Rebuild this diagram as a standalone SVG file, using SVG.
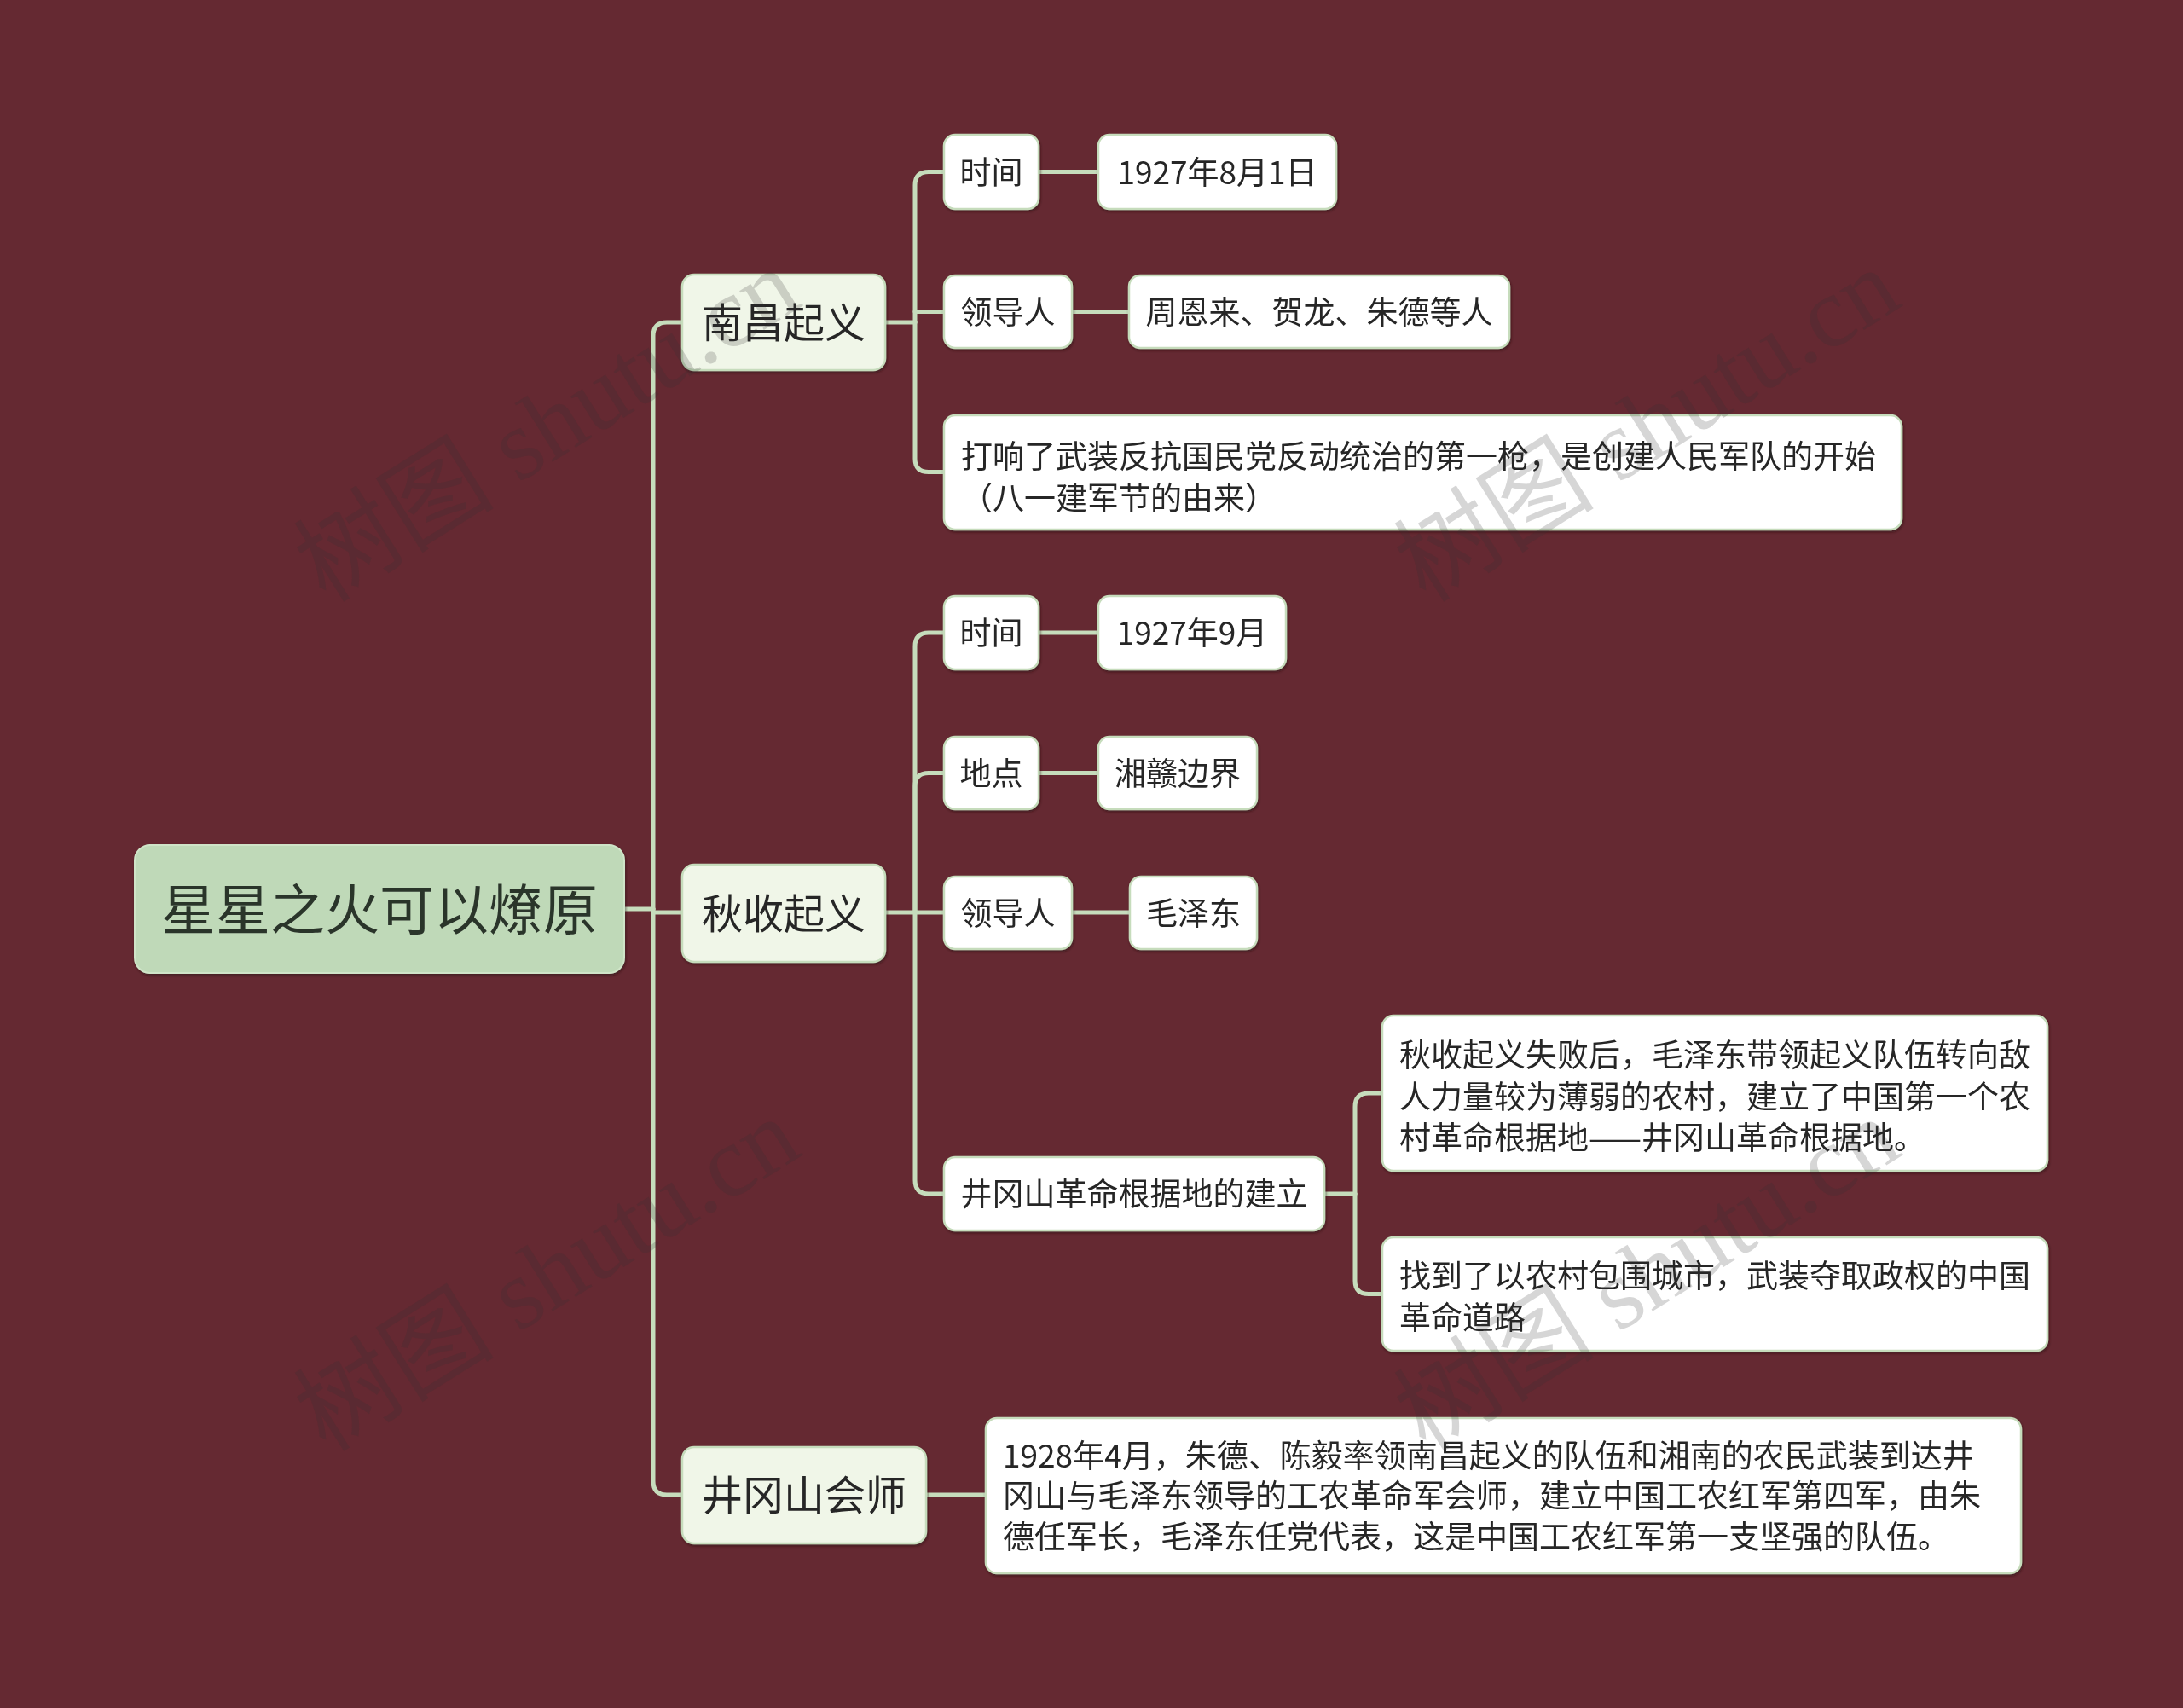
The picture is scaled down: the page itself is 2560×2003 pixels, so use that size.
<svg xmlns="http://www.w3.org/2000/svg" width="2560" height="2003" viewBox="0 0 2560 2003">
<defs>
<filter id="sh" x="-5%" y="-10%" width="110%" height="125%">
<feDropShadow dx="1" dy="2" stdDeviation="1.5" flood-color="#2a0c12" flood-opacity="0.55"/>
</filter>
</defs>
<style>
.t{font-family:"Noto Sans CJK SC","Noto Sans",sans-serif;fill:#262626}
.c{fill:none;stroke:#c6dcbc;stroke-width:5;stroke-linecap:round;stroke-linejoin:round}
.root rect{fill:#bfd9b8;stroke:#cfe4c8;stroke-width:2}
.l1 rect{fill:#f0f6e8;stroke:#c6dcbc;stroke-width:2.5}
.l2 rect{fill:#ffffff;stroke:#c6dcbc;stroke-width:2.5}
.root text{font-size:64px;fill:#2c342c}
.l1 text{font-size:48px;fill:#262626}
.l2 text{font-size:37px}
.m{text-anchor:middle}
.wm{font-family:"Liberation Serif","Noto Sans CJK SC",serif;font-size:118px;fill:#333333;fill-opacity:0.2}
</style>
<rect x="0" y="0" width="2560" height="2003" fill="#652932"/>

<g id="connectors">
<path class="c" d="M732,1066 H766"/>
<path class="c" d="M766,1066 V394 Q766,378 782,378 H800"/>
<path class="c" d="M766,1070 H800"/>
<path class="c" d="M766,1066 V1737 Q766,1753 782,1753 H800"/>
<path class="c" d="M1038,378 H1073"/>
<path class="c" d="M1073,378 V217 Q1073,201.5 1089,201.5 H1107"/>
<path class="c" d="M1073,365.5 H1107"/>
<path class="c" d="M1073,378 V538 Q1073,553.5 1089,553.5 H1107"/>
<path class="c" d="M1218,201.5 H1288"/>
<path class="c" d="M1257,365.5 H1324"/>
<path class="c" d="M1038,1070 H1073"/>
<path class="c" d="M1073,1070 V758 Q1073,742 1089,742 H1107"/>
<path class="c" d="M1073,1070 V922 Q1073,906.5 1089,906.5 H1107"/>
<path class="c" d="M1073,1070 H1107"/>
<path class="c" d="M1073,1070 V1384 Q1073,1400 1089,1400 H1107"/>
<path class="c" d="M1218,742 H1288"/>
<path class="c" d="M1218,906.5 H1288"/>
<path class="c" d="M1257,1070 H1325"/>
<path class="c" d="M1553,1400 H1589"/>
<path class="c" d="M1589,1400 V1298 Q1589,1282 1605,1282 H1621"/>
<path class="c" d="M1589,1400 V1502 Q1589,1517.5 1605,1517.5 H1621"/>
<path class="c" d="M1086,1753 H1156"/>
</g>

<g id="root" class="root" filter="url(#sh)">
<rect x="158" y="991" width="574" height="150" rx="18"/>
<text class="t m" x="445" y="1090">星星之火可以燎原</text>
</g>

<g id="nanchang" class="l1" filter="url(#sh)">
<rect x="800" y="322" width="238" height="112" rx="14"/>
<text class="t m" x="919" y="396">南昌起义</text>
</g>
<g id="qiushou" class="l1" filter="url(#sh)">
<rect x="800" y="1014" width="238" height="114" rx="14"/>
<text class="t m" x="919" y="1089">秋收起义</text>
</g>
<g id="jinggangshan-huishi" class="l1" filter="url(#sh)">
<rect x="800" y="1697" width="286" height="113" rx="14"/>
<text class="t m" x="943" y="1771">井冈山会师</text>
</g>

<g id="nc-time" class="l2" filter="url(#sh)">
<rect x="1107" y="158" width="111" height="87" rx="13"/>
<text class="t m" x="1162.5" y="216">时间</text>
</g>
<g id="nc-time-v" class="l2" filter="url(#sh)">
<rect x="1288" y="158" width="279" height="87" rx="13"/>
<text class="t m" x="1427.5" y="216">1927年8月1日</text>
</g>
<g id="nc-leader" class="l2" filter="url(#sh)">
<rect x="1107" y="323" width="150" height="85" rx="13"/>
<text class="t m" x="1182" y="380">领导人</text>
</g>
<g id="nc-leader-v" class="l2" filter="url(#sh)">
<rect x="1324" y="323" width="446" height="85" rx="13"/>
<text class="t m" x="1547" y="380">周恩来、贺龙、朱德等人</text>
</g>
<g id="nc-meaning" class="l2" filter="url(#sh)">
<rect x="1107" y="487" width="1123" height="134" rx="13"/>
<text class="t" x="1127" y="549">打响了武装反抗国民党反动统治的第一枪，是创建人民军队的开始</text>
<text class="t" x="1127" y="598">（八一建军节的由来）</text>
</g>

<g id="qs-time" class="l2" filter="url(#sh)">
<rect x="1107" y="699" width="111" height="86" rx="13"/>
<text class="t m" x="1162.5" y="756">时间</text>
</g>
<g id="qs-time-v" class="l2" filter="url(#sh)">
<rect x="1288" y="699" width="220" height="86" rx="13"/>
<text class="t m" x="1398" y="756">1927年9月</text>
</g>
<g id="qs-place" class="l2" filter="url(#sh)">
<rect x="1107" y="864" width="111" height="85" rx="13"/>
<text class="t m" x="1162.5" y="921">地点</text>
</g>
<g id="qs-place-v" class="l2" filter="url(#sh)">
<rect x="1288" y="864" width="186" height="85" rx="13"/>
<text class="t m" x="1381" y="921">湘赣边界</text>
</g>
<g id="qs-leader" class="l2" filter="url(#sh)">
<rect x="1107" y="1028" width="150" height="85" rx="13"/>
<text class="t m" x="1182" y="1085">领导人</text>
</g>
<g id="qs-leader-v" class="l2" filter="url(#sh)">
<rect x="1325" y="1028" width="149" height="85" rx="13"/>
<text class="t m" x="1399.5" y="1085">毛泽东</text>
</g>
<g id="qs-base" class="l2" filter="url(#sh)">
<rect x="1107" y="1357" width="446" height="86" rx="13"/>
<text class="t m" x="1330" y="1414">井冈山革命根据地的建立</text>
</g>
<g id="qs-base-1" class="l2" filter="url(#sh)">
<rect x="1621" y="1191" width="780" height="182" rx="13"/>
<text class="t" x="1641" y="1251">秋收起义失败后，毛泽东带领起义队伍转向敌</text>
<text class="t" x="1641" y="1300">人力量较为薄弱的农村，建立了中国第一个农</text>
<text class="t" x="1641" y="1348">村革命根据地——井冈山革命根据地。</text>
</g>
<g id="qs-base-2" class="l2" filter="url(#sh)">
<rect x="1621" y="1451" width="780" height="133" rx="13"/>
<text class="t" x="1641" y="1510">找到了以农村包围城市，武装夺取政权的中国</text>
<text class="t" x="1641" y="1559">革命道路</text>
</g>

<g id="hs-detail" class="l2" filter="url(#sh)">
<rect x="1156" y="1663" width="1214" height="182" rx="13"/>
<text class="t" x="1176" y="1721">1928年4月，朱德、陈毅率领南昌起义的队伍和湘南的农民武装到达井</text>
<text class="t" x="1176" y="1768">冈山与毛泽东领导的工农革命军会师，建立中国工农红军第四军，由朱</text>
<text class="t" x="1176" y="1816">德任军长，毛泽东任党代表，这是中国工农红军第一支坚强的队伍。</text>
</g>

<g id="watermarks">
<text class="wm" x="382" y="708" transform="rotate(-32 382 708)">树图 shutu.cn</text>
<text class="wm" x="1672" y="708" transform="rotate(-32 1672 708)">树图 shutu.cn</text>
<text class="wm" x="382" y="1704" transform="rotate(-32 382 1704)">树图 shutu.cn</text>
<text class="wm" x="1672" y="1704" transform="rotate(-32 1672 1704)">树图 shutu.cn</text>
</g>
</svg>
